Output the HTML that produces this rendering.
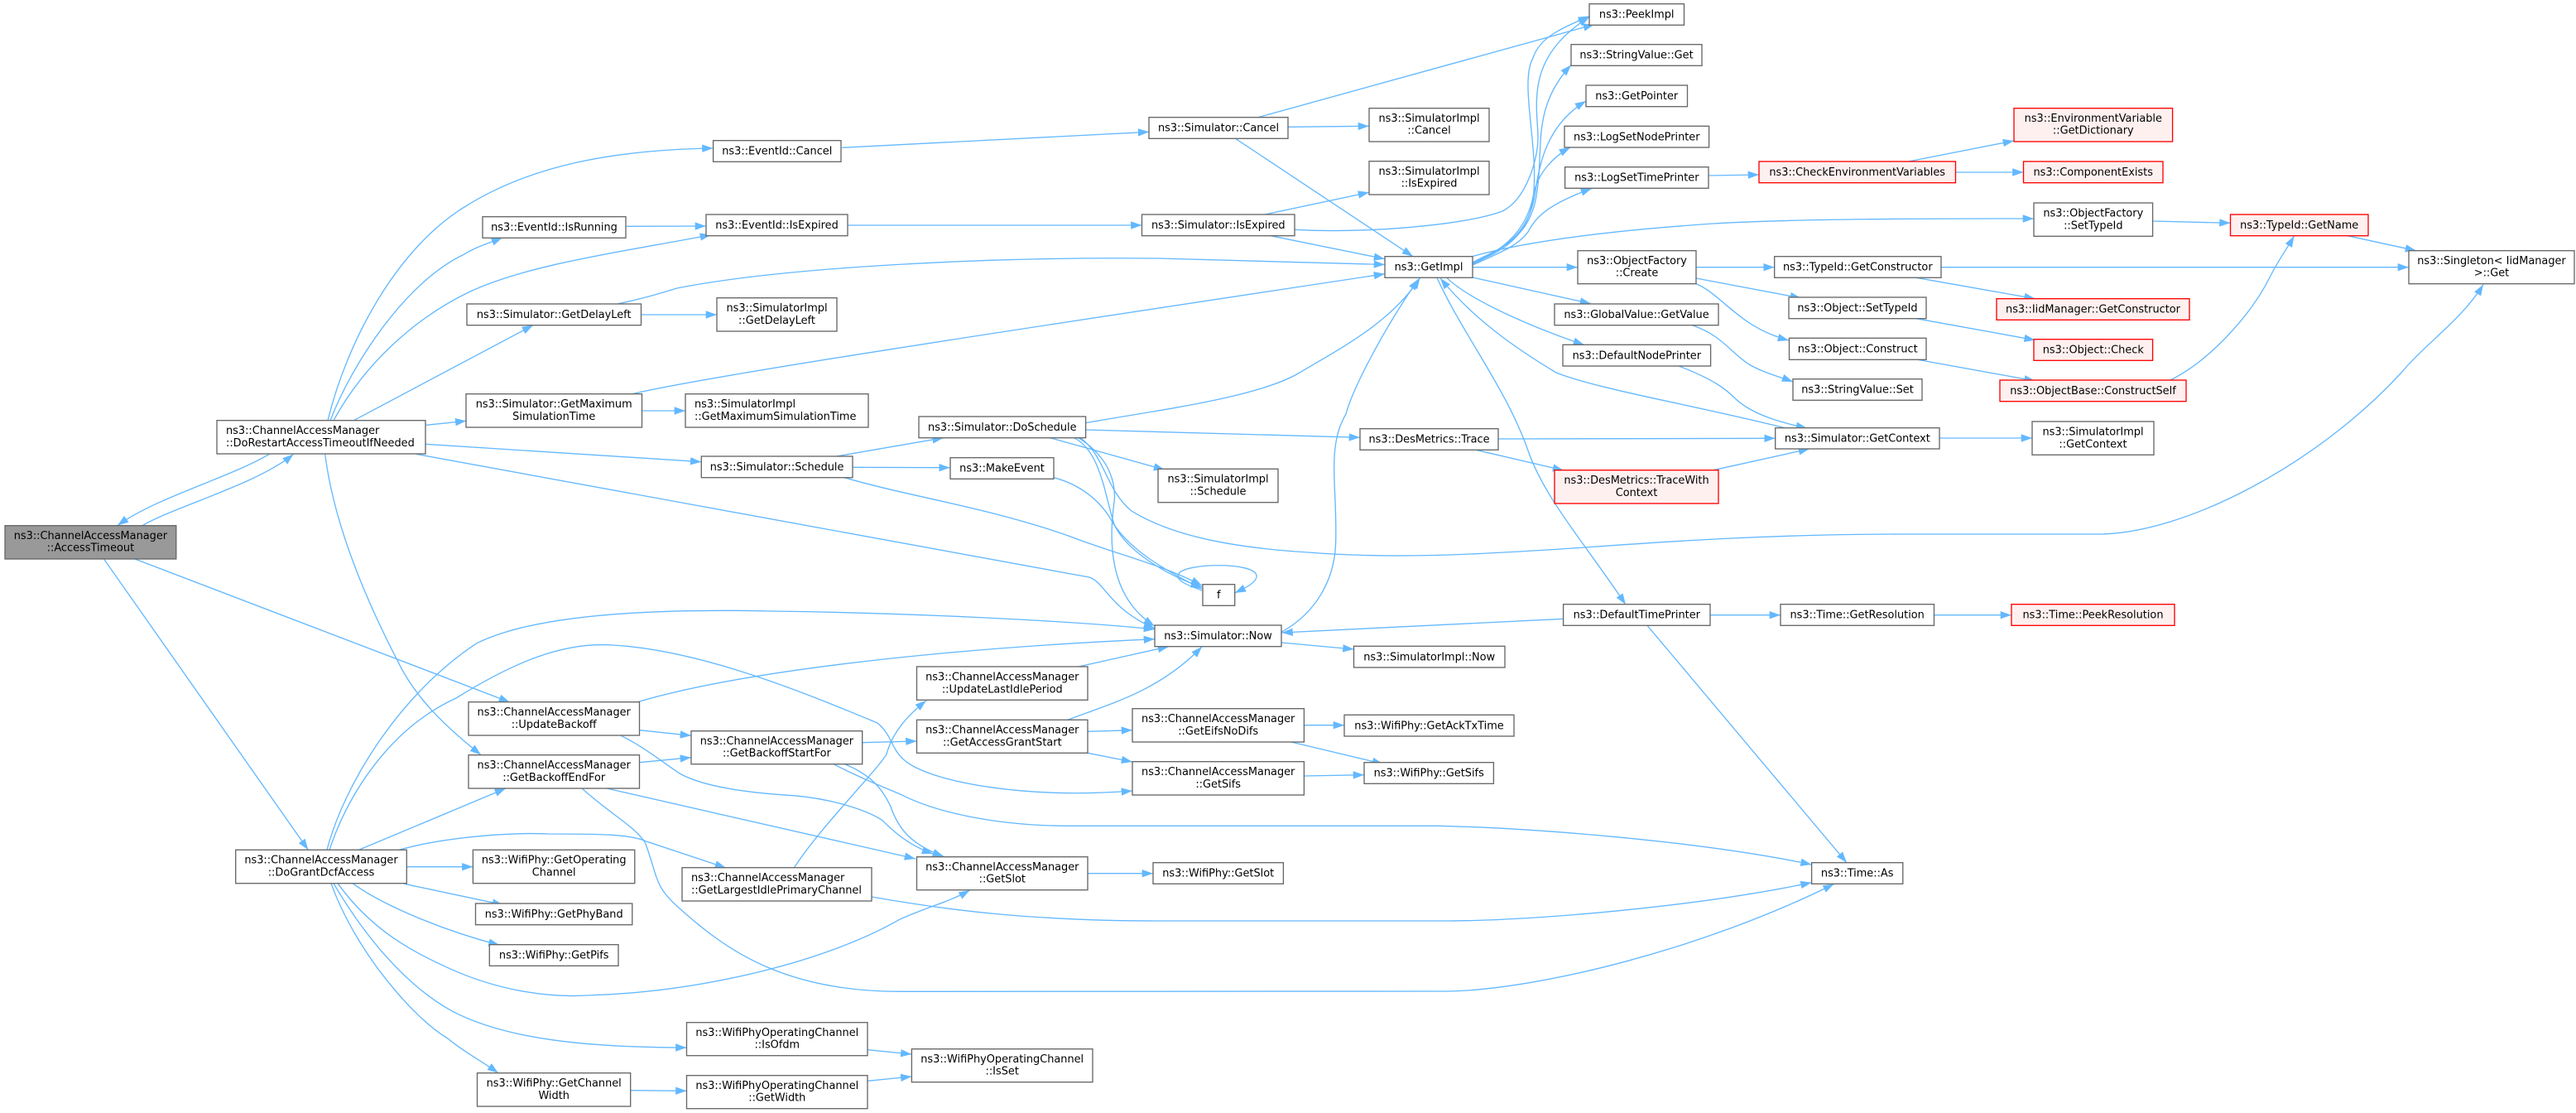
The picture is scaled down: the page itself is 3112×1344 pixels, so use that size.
<!DOCTYPE html>
<html><head><meta charset="utf-8"><title>Call graph</title>
<style>
html,body{margin:0;padding:0;background:#fff}
svg{display:block}
text{font-family:"DejaVu Sans","Liberation Sans",sans-serif;font-size:12.9px;fill:#000;text-anchor:middle}
text.s{text-anchor:start}
rect{fill:#fff;stroke:#666;stroke-width:1.33}
rect.r{fill:#fff0f0;stroke:#f00}
rect.g{fill:#999;stroke:#666}
</style></head><body>
<svg xmlns="http://www.w3.org/2000/svg" width="3112" height="1344" viewBox="0 0 3112 1344">
<defs><marker id="a" markerUnits="userSpaceOnUse" markerWidth="15" markerHeight="11" refX="13.3" refY="5" orient="auto"><path d="M0,0.3 L13.3,5 L0,9.7 Z" fill="#63b8ff" stroke="none"/></marker></defs>
<g fill="none" stroke="#63b8ff" stroke-width="1.33" marker-end="url(#a)">
<path d="M172,634.7 C210,612 310,585 354.5,548.5"/>
<path d="M325.4,548.3 C275,578 190,600 142,634.5"/>
<path d="M396,507.7 C420,410 480,300 561,250 C640,200 740,181 861.5,179"/>
<path d="M399,507.7 C425,440 490,340 561,307 C575,298 590,294 607,287"/>
<path d="M403,507.7 C440,440 500,385 566,353 C640,318 760,303 859,283.5"/>
<path d="M427.4,507.7 L644,392.7"/>
<path d="M515,513.3 L563.3,508.3"/>
<path d="M513.8,536.3 L847.3,557.7"/>
<path d="M502.5,548.3 L1315.7,697 C1335,703 1340,735 1395,759"/>
<path d="M392.7,548.3 C403,630 440,720 479.6,796.7 C500,840 535,875 581,911.5"/>
<path d="M163,675 L616,848"/>
<path d="M125.5,675 L372.3,1026.3"/>
<path d="M1017.2,178.3 L1388.2,159.3"/>
<path d="M757,273.3 L853,273"/>
<path d="M1024,272 L1379.5,272"/>
<path d="M774.5,380 L866,380"/>
<path d="M745.7,367 C775,361 795,355 818,348 C950,322 1200,310 1400,312 C1500,314 1600,317 1673,319.5"/>
<path d="M764,475.7 C850,455 1200,402 1673,330.7"/>
<path d="M775.5,496 L828,496"/>
<path d="M1010.5,551 L1139.7,528.7"/>
<path d="M1030,564.3 L1147.7,564.7"/>
<path d="M1020,576.7 C1100,600 1190,612 1290,646.7 C1350,670 1400,680 1452,707"/>
<path d="M1273,576.7 C1305,585 1330,605 1343.6,630 C1365,665 1410,690 1452,711"/>
<path d="M1297.7,528.7 C1330,545 1335,600 1346,633 C1360,665 1410,695 1452,709"/>
<path d="M1302.8,528.7 C1345,555 1348,590 1346,606.7 C1340,650 1338,720 1394.8,756"/>
<path d="M1305,528.7 C1335,550 1335,590 1366.5,616.7 C1420,650 1500,662 1580,667 C1680,675 1780,670 1900,662 C2000,655 2130,645 2300,645 L2534,645 C2640,645 2800,560 2901,450 C2930,415 2975,385 3000,343.5"/>
<path d="M1268.6,528.7 L1407,567.3"/>
<path d="M1311.4,519 L1643,528.3"/>
<path d="M1311.4,510.7 C1400,495 1520,480 1570,450 C1620,420 1680,390 1715.5,335.5"/>
<path d="M1548.5,763 C1590,740 1612,700 1613.6,656.7 C1616,590 1602,540 1626,500 C1634,470 1670,400 1713.5,337"/>
<path d="M1520,141.7 L1926,29.5"/>
<path d="M1556,153.3 L1654,152.3"/>
<path d="M1492.5,167.3 L1707,309.7"/>
<path d="M1528,259 L1654,232.3"/>
<path d="M1564,277.3 C1650,282 1770,272 1815,255 C1845,240 1858,190 1858,167 C1858,130 1840,70 1920,20.7"/>
<path d="M1535,284.7 L1673,312.7"/>
<path d="M1779,318 C1810,305 1845,290 1852,240 C1860,180 1835,100 1852,70 C1860,45 1885,35 1920,19.5"/>
<path d="M1779,317 C1810,300 1850,290 1857,230 C1865,180 1850,130 1898,78.5"/>
<path d="M1779,318 C1815,300 1848,285 1855,230 C1860,195 1870,150 1916,122"/>
<path d="M1779,319 C1815,302 1845,280 1853,233 C1858,210 1875,190 1897,178"/>
<path d="M1779,320 C1820,302 1835,295 1846,280 C1855,262 1870,247 1923,227.5"/>
<path d="M1779,309.5 C1850,290 1950,278 2070,270 C2170,264 2330,264 2457,264"/>
<path d="M1779,322.7 L1906,322.7"/>
<path d="M1779,335 L1922,366.7"/>
<path d="M1747.7,335.3 C1775,362 1850,395 1914,416.5"/>
<path d="M1736,335.3 C1765,400 1820,470 1845.6,543 C1865,600 1910,650 1964,730"/>
<path d="M2156,516.7 C2050,490 1930,470 1880,450 C1830,420 1780,385 1740,336"/>
<path d="M1888.6,747.3 L1548.5,764"/>
<path d="M2066,742.7 L2151,742.7"/>
<path d="M2336.5,742.7 L2430,742.7"/>
<path d="M1990,755.3 L2231,1041.7"/>
<path d="M2064,212 L2125,211"/>
<path d="M2305.6,195 L2433,170"/>
<path d="M2362.3,208 L2444.5,208"/>
<path d="M2049,322.7 L2143.7,322.7"/>
<path d="M2049,336 L2176,360"/>
<path d="M2049,342.7 C2080,355 2100,395 2161,411"/>
<path d="M2345,322.7 L2910,322.7"/>
<path d="M2315,335.3 L2458.7,360.7"/>
<path d="M2315,384.7 L2458.7,410.7"/>
<path d="M2315,434 L2458.7,460"/>
<path d="M2622,459 C2670,435 2720,380 2743,333 C2755,310 2763,300 2771.4,285"/>
<path d="M2600.6,267 L2694.5,269.3"/>
<path d="M2836,284.7 L2919,302.7"/>
<path d="M2044.5,392.7 C2080,405 2090,425 2113,440 C2130,450 2150,455 2166,461"/>
<path d="M2028,442 C2070,458 2085,470 2095,480 C2115,500 2150,510 2183,517"/>
<path d="M1810,530 L2144.7,529.3"/>
<path d="M1783,543.3 L1889,568"/>
<path d="M2070,567.7 L2186,542"/>
<path d="M2343,529 L2455,529"/>
<path d="M1548,776 L1635.5,784"/>
<path d="M1452,713 C1430,705 1420,700 1424,693 C1430,680 1515,678 1518,695 C1519,704 1500,712 1491.7,716"/>
<path d="M395,1026.3 C415,950 480,840 576,776.7 C650,740 800,735 933,738 C1100,740 1300,750 1395,760"/>
<path d="M398,1026.3 C420,960 470,880 551,843 C620,800 680,775 740,779 C850,785 980,840 1060,873 C1080,890 1075,905 1096,920.7 C1130,945 1240,965 1368,955"/>
<path d="M433.5,1026.3 L611,952"/>
<path d="M482,1026.3 C540,1010 620,1005 663,1007 C720,1007 760,1007 780,1015.7 L877,1048"/>
<path d="M491.3,1046.7 L571.4,1046.7"/>
<path d="M488.6,1067.3 L608,1092.7"/>
<path d="M426,1066.7 C465,1095 540,1125 603.5,1141.3"/>
<path d="M408,1066.7 C450,1125 500,1150 545.7,1170.7 C600,1195 660,1205 709,1202 C850,1198 1000,1160 1086,1110.7 C1120,1095 1145,1090 1171.6,1075"/>
<path d="M403,1066.7 C440,1130 490,1190 545.7,1220.7 C610,1255 710,1265 829.5,1265"/>
<path d="M400,1066.7 C430,1150 500,1230 541,1254 C560,1270 580,1280 602,1295.7"/>
<path d="M770,847.7 C880,815 1100,785 1395,771.7"/>
<path d="M772.7,881.7 L835,888.3"/>
<path d="M772.7,920.7 L835,914.7"/>
<path d="M750,888.3 C775,900 800,920 821,934 C850,950 900,957 958.5,960.7 C1010,965 1050,980 1066,990.7 C1090,1015 1110,1025 1127,1031"/>
<path d="M733,952 L1106,1037"/>
<path d="M703,952 C740,985 770,1000 780,1019 C795,1060 790,1070 821,1097 C880,1150 950,1197 1086,1197.3 L1749,1197 C1860,1195 2060,1145 2215.6,1067.5"/>
<path d="M1041.7,896.7 L1107.5,895"/>
<path d="M1020.7,922.7 C1050,935 1065,950 1076,974 C1085,1000 1100,1020 1140,1034"/>
<path d="M1007,922.7 C1050,945 1080,955 1091,960.7 C1130,980 1200,997 1290,997.3 L1738,997.3 C1850,1000 2050,1015 2188.6,1044"/>
<path d="M959.5,1047.7 C990,1000 1060,930 1071,910.7 C1078,885 1095,865 1119,846"/>
<path d="M1053,1083 C1150,1100 1250,1112 1400,1112 L1749,1112 C1850,1112 2050,1095 2188.6,1065.7"/>
<path d="M1303,805 L1412,780.7"/>
<path d="M1290,869.3 C1340,850 1400,835 1452,781"/>
<path d="M1314,883.3 L1368,881.7"/>
<path d="M1314,909.3 L1368,920"/>
<path d="M1575.3,875.7 L1624,875.7"/>
<path d="M1560,896 L1671,922.5"/>
<path d="M1575.3,937 L1648,935.7"/>
<path d="M1314,1054.7 L1393,1054.7"/>
<path d="M1048,1267.7 L1101.4,1273"/>
<path d="M1048,1305.3 L1101.4,1300"/>
<path d="M761.7,1316.7 L829.5,1317.3"/>
</g>
<g>
<rect class="g" x="6" y="634.7" width="206.8" height="40.3"/><text x="109.4" y="651">ns3::ChannelAccessManager</text><text x="109.4" y="665.7">::AccessTimeout</text>
<rect x="262" y="507.7" width="252" height="40.3"/><text class="s" x="273" y="524">ns3::ChannelAccessManager</text><text class="s" x="273" y="539">::DoRestartAccessTimeoutIfNeeded</text>
<rect x="284.7" y="1026.3" width="206.6" height="40.4"/><text x="388" y="1042.6">ns3::ChannelAccessManager</text><text x="388" y="1057.4">::DoGrantDcfAccess</text>
<rect x="583" y="261.7" width="173" height="25.6"/><text x="669.5" y="278.7">ns3::EventId::IsRunning</text>
<rect x="564" y="367" width="210.5" height="25.7"/><text x="669.2" y="384">ns3::Simulator::GetDelayLeft</text>
<rect x="563" y="475.7" width="212.5" height="40.3"/><text x="669.2" y="492">ns3::Simulator::GetMaximum</text><text x="669.2" y="507">SimulationTime</text>
<rect x="566" y="847.7" width="206.5" height="40.3"/><text x="669.2" y="864">ns3::ChannelAccessManager</text><text x="669.2" y="879">::UpdateBackoff</text>
<rect x="566" y="911.7" width="206.5" height="40.3"/><text x="669.2" y="928">ns3::ChannelAccessManager</text><text x="669.2" y="943">::GetBackoffEndFor</text>
<rect x="571.4" y="1026.3" width="195.4" height="40.4"/><text x="669.2" y="1042.6">ns3::WifiPhy::GetOperating</text><text x="669.2" y="1057.4">Channel</text>
<rect x="574.5" y="1091" width="189.3" height="25.7"/><text x="669.2" y="1108">ns3::WifiPhy::GetPhyBand</text>
<rect x="591.3" y="1140.7" width="155.7" height="25.6"/><text x="669.2" y="1157.7">ns3::WifiPhy::GetPifs</text>
<rect x="576.5" y="1295.7" width="185.2" height="40.3"/><text x="669.2" y="1312">ns3::WifiPhy::GetChannel</text><text x="669.2" y="1327">Width</text>
<rect x="861.6" y="169.7" width="154.4" height="25.6"/><text x="938.8" y="186.7">ns3::EventId::Cancel</text>
<rect x="853" y="259" width="171" height="25.7"/><text x="938.5" y="276">ns3::EventId::IsExpired</text>
<rect x="866" y="359.7" width="145" height="40.3"/><text x="938.5" y="376">ns3::SimulatorImpl</text><text x="938.5" y="391">::GetDelayLeft</text>
<rect x="828" y="475.7" width="221" height="40.3"/><text class="s" x="839" y="492">ns3::SimulatorImpl</text><text class="s" x="839" y="507">::GetMaximumSimulationTime</text>
<rect x="847.3" y="551" width="182.7" height="25.7"/><text x="938.6" y="568">ns3::Simulator::Schedule</text>
<rect x="835" y="882.7" width="206.7" height="40"/><text x="938.4" y="899">ns3::ChannelAccessManager</text><text x="938.4" y="913.7">::GetBackoffStartFor</text>
<rect x="824" y="1047.7" width="229" height="40.3"/><text class="s" x="835" y="1064">ns3::ChannelAccessManager</text><text class="s" x="835" y="1079">::GetLargestIdlePrimaryChannel</text>
<rect x="829.5" y="1234.7" width="218.5" height="40"/><text x="938.8" y="1251">ns3::WifiPhyOperatingChannel</text><text x="938.8" y="1265.7">::IsOfdm</text>
<rect x="829.5" y="1298.7" width="218.5" height="40"/><text x="938.8" y="1315">ns3::WifiPhyOperatingChannel</text><text x="938.8" y="1329.7">::GetWidth</text>
<rect x="1110" y="503" width="201.6" height="25.7"/><text x="1210.8" y="520">ns3::Simulator::DoSchedule</text>
<rect x="1148" y="552.7" width="125" height="25.6"/><text x="1210.5" y="569.7">ns3::MakeEvent</text>
<rect x="1107.5" y="805" width="206.5" height="40.3"/><text x="1210.8" y="821.3">ns3::ChannelAccessManager</text><text x="1210.8" y="836.3">::UpdateLastIdlePeriod</text>
<rect x="1107.5" y="869.3" width="206.5" height="40"/><text x="1210.8" y="885.6">ns3::ChannelAccessManager</text><text x="1210.8" y="900.3">::GetAccessGrantStart</text>
<rect x="1107.5" y="1034.7" width="206.5" height="40"/><text x="1210.8" y="1051">ns3::ChannelAccessManager</text><text x="1210.8" y="1065.7">::GetSlot</text>
<rect x="1101.4" y="1266.7" width="218.6" height="40"/><text x="1210.7" y="1283">ns3::WifiPhyOperatingChannel</text><text x="1210.7" y="1297.7">::IsSet</text>
<rect x="1388" y="141.7" width="168" height="25.6"/><text x="1472" y="158.7">ns3::Simulator::Cancel</text>
<rect x="1379.5" y="259" width="184.5" height="25.7"/><text x="1471.8" y="276">ns3::Simulator::IsExpired</text>
<rect x="1399" y="566.3" width="145" height="40.4"/><text x="1471.5" y="582.6">ns3::SimulatorImpl</text><text x="1471.5" y="597.4">::Schedule</text>
<rect x="1453" y="705.7" width="38.7" height="25.6"/><text x="1472.3" y="722.7">f</text>
<rect x="1395" y="755" width="153" height="25.7"/><text x="1471.5" y="772">ns3::Simulator::Now</text>
<rect x="1368" y="855.7" width="207.4" height="40.3"/><text x="1471.7" y="872">ns3::ChannelAccessManager</text><text x="1471.7" y="887">::GetEifsNoDifs</text>
<rect x="1368" y="919.7" width="207.4" height="40.3"/><text x="1471.7" y="936">ns3::ChannelAccessManager</text><text x="1471.7" y="951">::GetSifs</text>
<rect x="1393" y="1041.7" width="157.4" height="25.6"/><text x="1471.7" y="1058.7">ns3::WifiPhy::GetSlot</text>
<rect x="1654" y="130.7" width="145" height="40.3"/><text x="1726.5" y="147">ns3::SimulatorImpl</text><text x="1726.5" y="161.7">::Cancel</text>
<rect x="1654" y="194.7" width="145" height="40.3"/><text x="1726.5" y="211">ns3::SimulatorImpl</text><text x="1726.5" y="225.7">::IsExpired</text>
<rect x="1673" y="309.7" width="106" height="25.6"/><text x="1726" y="326.7">ns3::GetImpl</text>
<rect x="1643" y="517.7" width="167" height="25.6"/><text x="1726.5" y="534.7">ns3::DesMetrics::Trace</text>
<rect x="1635.5" y="780.3" width="182.5" height="25.7"/><text x="1726.7" y="797.3">ns3::SimulatorImpl::Now</text>
<rect x="1624" y="863.3" width="205" height="25.7"/><text x="1726.5" y="880.3">ns3::WifiPhy::GetAckTxTime</text>
<rect x="1648" y="920.7" width="156.4" height="25.6"/><text x="1726.2" y="937.7">ns3::WifiPhy::GetSifs</text>
<rect x="1920" y="4.7" width="114.5" height="25.6"/><text x="1977.2" y="21.7">ns3::PeekImpl</text>
<rect x="1898" y="53.7" width="158" height="25.6"/><text x="1977" y="70.7">ns3::StringValue::Get</text>
<rect x="1916" y="103" width="122.5" height="25.7"/><text x="1977.2" y="120">ns3::GetPointer</text>
<rect x="1890" y="152.3" width="174.6" height="25.7"/><text x="1977.3" y="169.3">ns3::LogSetNodePrinter</text>
<rect x="1890.6" y="201.7" width="173.4" height="25.6"/><text x="1977.3" y="218.7">ns3::LogSetTimePrinter</text>
<rect x="1906" y="302.7" width="143" height="40"/><text x="1977.5" y="319">ns3::ObjectFactory</text><text x="1977.5" y="333.7">::Create</text>
<rect x="1878" y="367" width="198" height="25.7"/><text x="1977" y="384">ns3::GlobalValue::GetValue</text>
<rect x="1888" y="416.3" width="178.6" height="25.7"/><text x="1977.3" y="433.3">ns3::DefaultNodePrinter</text>
<rect class="r" x="1878" y="567.7" width="198" height="40.3"/><text x="1977" y="584">ns3::DesMetrics::TraceWith</text><text x="1977" y="599">Context</text>
<rect x="1888.6" y="729.7" width="177.4" height="25.6"/><text x="1977.3" y="746.7">ns3::DefaultTimePrinter</text>
<rect class="r" x="2125" y="195" width="237.5" height="25.7"/><text x="2243.7" y="212">ns3::CheckEnvironmentVariables</text>
<rect x="2143.7" y="309.7" width="201.3" height="25.6"/><text x="2244.3" y="326.7">ns3::TypeId::GetConstructor</text>
<rect x="2161" y="359" width="166" height="25.7"/><text x="2244" y="376">ns3::Object::SetTypeId</text>
<rect x="2161.5" y="408.3" width="165.5" height="26"/><text x="2244.2" y="425.3">ns3::Object::Construct</text>
<rect x="2166" y="457.7" width="156" height="25.6"/><text x="2244" y="474.7">ns3::StringValue::Set</text>
<rect x="2144.7" y="516.7" width="198.3" height="25.3"/><text x="2243.8" y="533.5">ns3::Simulator::GetContext</text>
<rect x="2151" y="729.7" width="185.5" height="25.6"/><text x="2243.7" y="746.7">ns3::Time::GetResolution</text>
<rect x="2188.6" y="1041.7" width="110.2" height="25.6"/><text x="2243.7" y="1058.7">ns3::Time::As</text>
<rect class="r" x="2433" y="130.7" width="191.6" height="40.3"/><text x="2528.8" y="147">ns3::EnvironmentVariable</text><text x="2528.8" y="161.7">::GetDictionary</text>
<rect class="r" x="2444.5" y="195" width="168.5" height="25.7"/><text x="2528.7" y="212">ns3::ComponentExists</text>
<rect x="2457" y="245" width="143.6" height="40.3"/><text x="2528.8" y="261.3">ns3::ObjectFactory</text><text x="2528.8" y="276.3">::SetTypeId</text>
<rect class="r" x="2412" y="360.7" width="233" height="25.6"/><text x="2528.5" y="377.7">ns3::IidManager::GetConstructor</text>
<rect class="r" x="2457" y="409.7" width="143.6" height="25.6"/><text x="2528.8" y="426.7">ns3::Object::Check</text>
<rect class="r" x="2416" y="459" width="225" height="25.7"/><text x="2528.5" y="476">ns3::ObjectBase::ConstructSelf</text>
<rect x="2455" y="509" width="147" height="40.3"/><text x="2528.5" y="525.3">ns3::SimulatorImpl</text><text x="2528.5" y="540.3">::GetContext</text>
<rect class="r" x="2430" y="729.7" width="197" height="25.6"/><text x="2528.5" y="746.7">ns3::Time::PeekResolution</text>
<rect class="r" x="2694.5" y="259" width="166.5" height="25.7"/><text x="2777.7" y="276">ns3::TypeId::GetName</text>
<rect x="2910" y="302.7" width="200" height="40"/><text x="3010" y="319">ns3::Singleton&lt; IidManager</text><text x="3010" y="333.7">&gt;::Get</text>
</g>
</svg>
</body></html>
